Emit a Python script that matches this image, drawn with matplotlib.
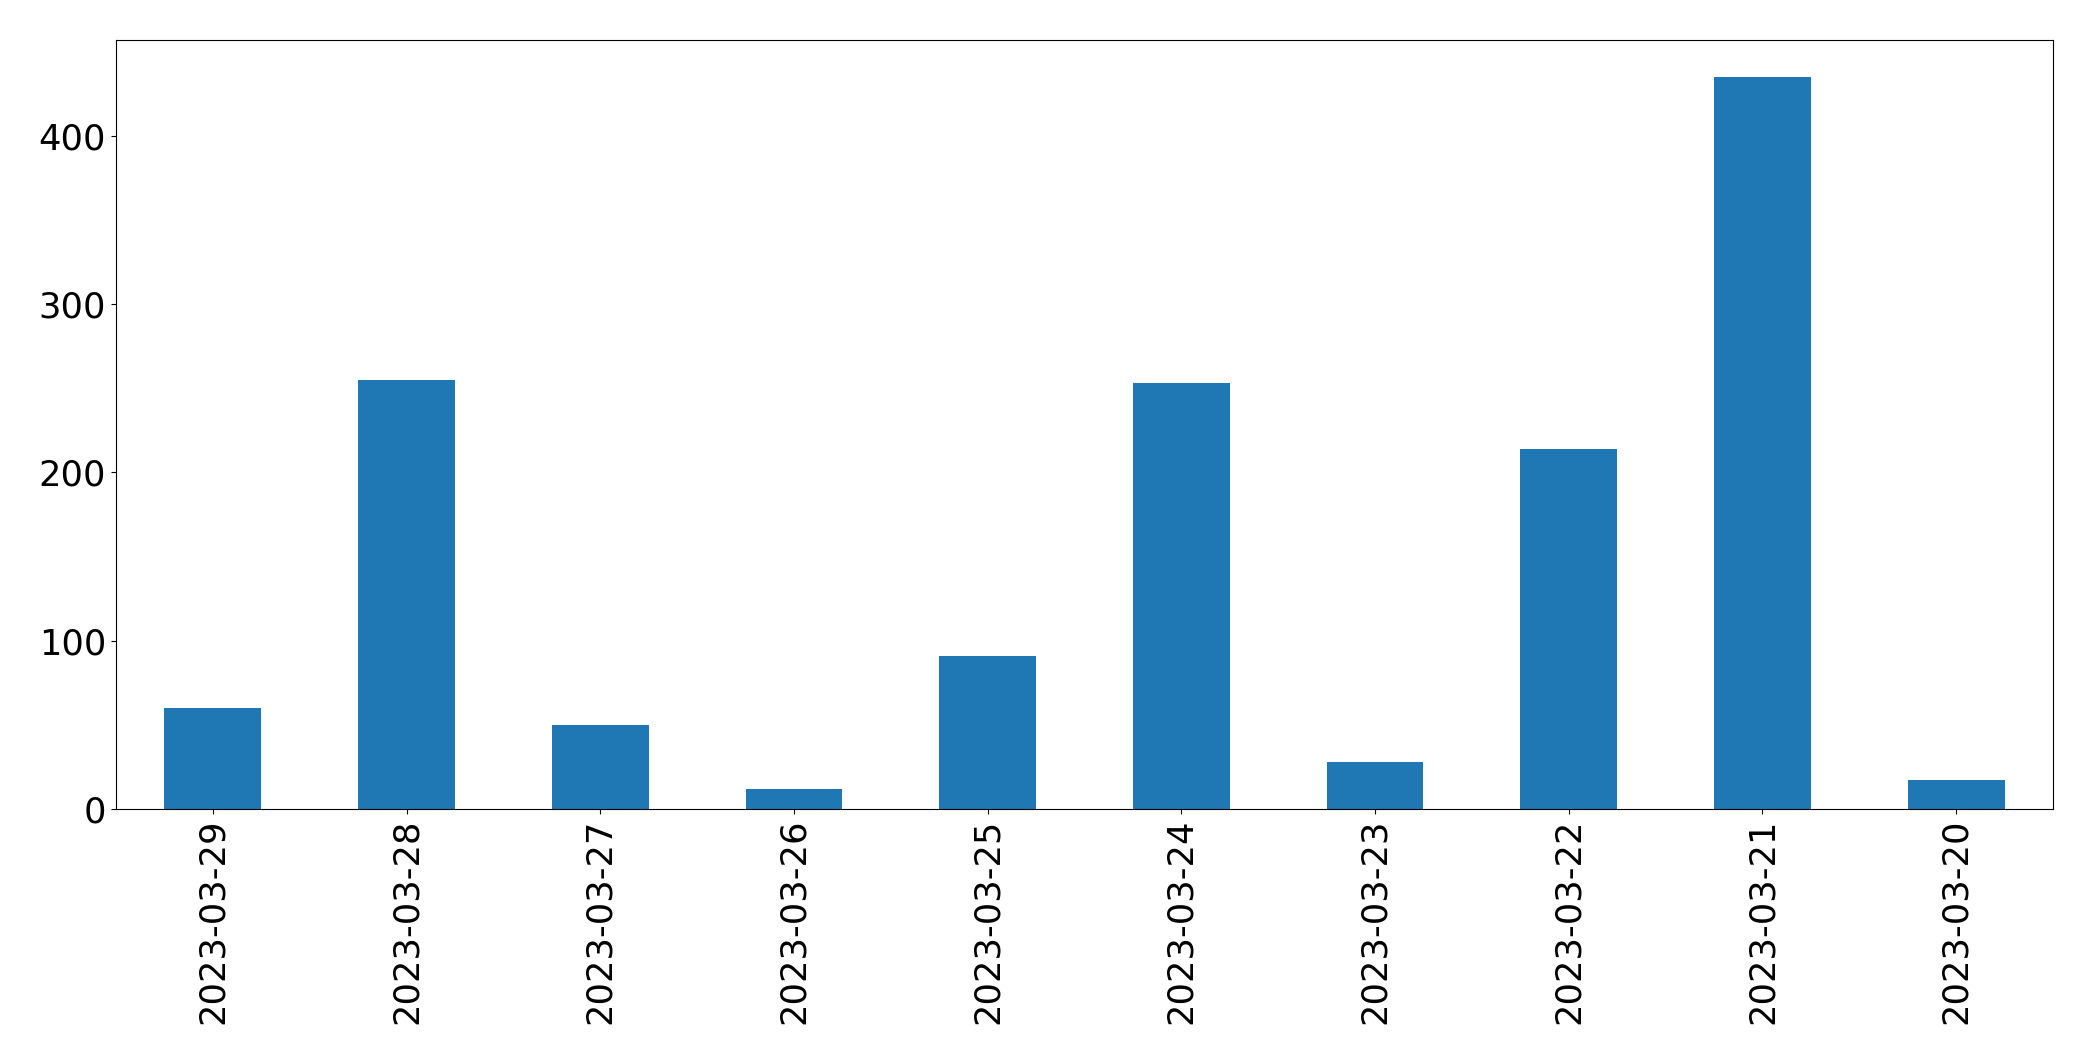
import numpy as np
import matplotlib
matplotlib.use("Agg")
import matplotlib.pyplot as plt

dates = ["2023-03-29", "2023-03-28", "2023-03-27", "2023-03-26", "2023-03-25",
         "2023-03-24", "2023-03-23", "2023-03-22", "2023-03-21", "2023-03-20"]
counts = [60, 255, 50, 12, 91, 253, 28, 214, 435, 17]

fig = plt.figure(figsize=(20.93, 10.61), dpi=100)
ax = fig.add_axes([0.0554, 0.2375, 0.9255, 0.7248])

x = np.arange(len(dates))
ax.bar(x, counts, width=0.5, color="#1f77b4")
ax.set_xlim(-0.5, len(dates) - 0.5)
ax.set_ylim(0, max(counts) * 1.05)
ax.set_yticks([0, 100, 200, 300, 400])
ax.set_xticks(x)
ax.set_xticklabels(dates, rotation=90)
ax.tick_params(labelsize=25.4)
for s in ax.spines.values():
    s.set_color("black")

fig.savefig("out.png", dpi=100)
